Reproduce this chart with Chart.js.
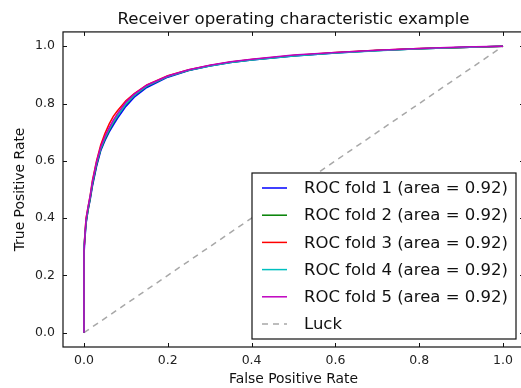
<!DOCTYPE html>
<html>
<head>
<meta charset="utf-8">
<script src="https://cdn.jsdelivr.net/npm/chart.js@4/dist/chart.umd.min.js"></script>
<style>
html,body{margin:0;padding:0;background:#fff;overflow:hidden;}
#wrap{width:530px;height:388px;}
</style>
</head>
<body>
<div id="wrap"><canvas id="c" width="530" height="388"></canvas></div>
<script>
// ---- data ----
const title = "Receiver operating characteristic example";
const xLabel = "False Positive Rate";
const yLabel = "True Positive Rate";
const xTicks = [0.0, 0.2, 0.4, 0.6, 0.8, 1.0];
const yTicks = [0.0, 0.2, 0.4, 0.6, 0.8, 1.0];
const fpr = [0, 0, 0.002, 0.005, 0.01, 0.015, 0.02, 0.03, 0.04, 0.05, 0.06, 0.07, 0.08, 0.1, 0.12, 0.15, 0.2, 0.25, 0.3, 0.35, 0.4, 0.5, 0.6, 0.7, 0.8, 0.9, 1.0];
const tprFold1 = [0,0.27,0.32,0.38,0.43,0.465,0.51,0.58,0.635,0.67,0.70,0.725,0.748,0.79,0.822,0.856,0.892,0.915,0.931,0.943,0.952,0.966,0.976,0.985,0.991,0.996,1.0];
const tprFold2 = [0,0.29,0.33,0.385,0.43,0.47,0.515,0.585,0.64,0.675,0.705,0.732,0.756,0.797,0.828,0.86,0.894,0.916,0.932,0.944,0.953,0.967,0.977,0.985,0.991,0.996,1.0];
const tprFold3 = [0,0.28,0.34,0.40,0.44,0.48,0.53,0.60,0.655,0.695,0.728,0.755,0.775,0.81,0.835,0.865,0.897,0.918,0.933,0.945,0.954,0.968,0.978,0.986,0.992,0.996,1.0];
const tprFold4 = [0,0.30,0.335,0.39,0.435,0.475,0.52,0.59,0.642,0.678,0.708,0.734,0.757,0.798,0.829,0.861,0.894,0.916,0.931,0.943,0.952,0.966,0.976,0.984,0.991,0.996,1.0];
const tprFold5 = [0,0.285,0.335,0.395,0.44,0.478,0.525,0.595,0.648,0.685,0.715,0.742,0.765,0.805,0.833,0.864,0.896,0.918,0.934,0.946,0.955,0.969,0.978,0.986,0.992,0.997,1.0];
const foldAreas = [0.92, 0.92, 0.92, 0.92, 0.92];
const luckX = [0, 1];
const luckY = [0, 1];

const foldTprs = [tprFold1, tprFold2, tprFold3, tprFold4, tprFold5];
const foldColors = ['#0000ff', '#008000', '#ff0000', '#00bfbf', '#bf00bf'];
const FONT = "'DejaVu Sans', sans-serif";

const datasets = foldTprs.map((t, i) => ({
  label: 'ROC fold ' + (i + 1) + ' (area = ' + foldAreas[i].toFixed(2) + ')',
  data: fpr.map((x, j) => ({x: x, y: t[j]})),
  borderColor: foldColors[i],
  borderWidth: 1.5,
  showLine: true,
  pointRadius: 0,
  fill: false,
  tension: 0,
  order: 5 - i
}));
datasets.push({
  label: 'Luck',
  data: luckX.map((x, j) => ({x: x, y: luckY[j]})),
  borderColor: '#a8a8a8',
  borderWidth: 1.5,
  borderDash: [6, 5],
  showLine: true,
  pointRadius: 0,
  fill: false,
  order: 10
});

const framePlugin = {
  id: 'frame',
  afterDatasetsDraw(chart) {
    const ctx = chart.ctx;
    const a = chart.chartArea;
    const xs = chart.scales.x, ys = chart.scales.y;
    ctx.save();
    ctx.strokeStyle = '#111';
    ctx.lineWidth = 1.2;
    ctx.strokeRect(a.left, a.top, a.right - a.left, a.bottom - a.top);
    ctx.lineWidth = 1;
    const tl = 4;
    ctx.beginPath();
    xTicks.forEach(v => {
      const px = Math.round(xs.getPixelForValue(v)) + 0.5;
      ctx.moveTo(px, a.bottom); ctx.lineTo(px, a.bottom - tl);
      ctx.moveTo(px, a.top); ctx.lineTo(px, a.top + tl);
    });
    yTicks.forEach(v => {
      const py = Math.round(ys.getPixelForValue(v)) + 0.5;
      ctx.moveTo(a.left, py); ctx.lineTo(a.left + tl, py);
      ctx.moveTo(a.right, py); ctx.lineTo(a.right - tl, py);
    });
    ctx.stroke();

    // legend box (lower right)
    const bx1 = a.right - 8, by1 = a.bottom - 8;
    const bx0 = bx1 - 264, by0 = by1 - 166;
    ctx.fillStyle = '#fff';
    ctx.fillRect(bx0, by0, bx1 - bx0, by1 - by0);
    ctx.strokeStyle = '#111';
    ctx.lineWidth = 1.2;
    ctx.strokeRect(bx0, by0, bx1 - bx0, by1 - by0);
    ctx.font = '16.5px ' + FONT;
    ctx.textBaseline = 'middle';
    ctx.textAlign = 'left';
    chart.data.datasets.forEach((ds, i) => {
      const y = by0 + 15 + i * 27.2;
      ctx.beginPath();
      ctx.strokeStyle = ds.borderColor;
      ctx.lineWidth = 1.5;
      ctx.setLineDash(ds.borderDash || []);
      ctx.moveTo(bx0 + 10, y); ctx.lineTo(bx0 + 35, y);
      ctx.stroke();
      ctx.setLineDash([]);
      ctx.fillStyle = '#111';
      ctx.fillText(ds.label, bx0 + 52, y + 1);
    });
    ctx.restore();
  }
};

new Chart(document.getElementById('c'), {
  type: 'scatter',
  data: { datasets: datasets },
  options: {
    responsive: false,
    animation: false,
    layout: { padding: { left: 0, right: 6, top: 0, bottom: 0 } },
    plugins: {
      legend: { display: false },
      tooltip: { enabled: false },
      title: {
        display: true,
        fullSize: false,
        text: title,
        color: '#111',
        font: { family: FONT, size: 16.6, weight: 'normal' },
        padding: { top: 10, bottom: 2 }
      }
    },
    scales: {
      x: {
        type: 'linear',
        min: -0.05, max: 1.05,
        grid: { display: false, drawTicks: false },
        border: { display: false },
        afterFit(s) { s.height = 41; },
        afterBuildTicks(s) { s.ticks = xTicks.map(v => ({value: v})); },
        ticks: {
          padding: 6,
          color: '#222',
          font: { family: FONT, size: 12.5 },
          callback: v => Number(v).toFixed(1)
        },
        title: {
          display: true, text: xLabel, color: '#111',
          font: { family: FONT, size: 13.9 },
          padding: { top: 0, bottom: 0 }
        }
      },
      y: {
        type: 'linear',
        min: -0.05, max: 1.05,
        grid: { display: false, drawTicks: false },
        border: { display: false },
        afterFit(s) { s.width = 63; },
        afterBuildTicks(s) { s.ticks = yTicks.map(v => ({value: v})); },
        ticks: {
          padding: 8,
          color: '#222',
          font: { family: FONT, size: 12.5 },
          callback: v => Number(v).toFixed(1)
        },
        title: {
          display: true, text: yLabel, color: '#111',
          font: { family: FONT, size: 13.9 },
          padding: { top: 12, bottom: 0 }
        }
      }
    }
  },
  plugins: [framePlugin]
});
</script>
</body>
</html>
